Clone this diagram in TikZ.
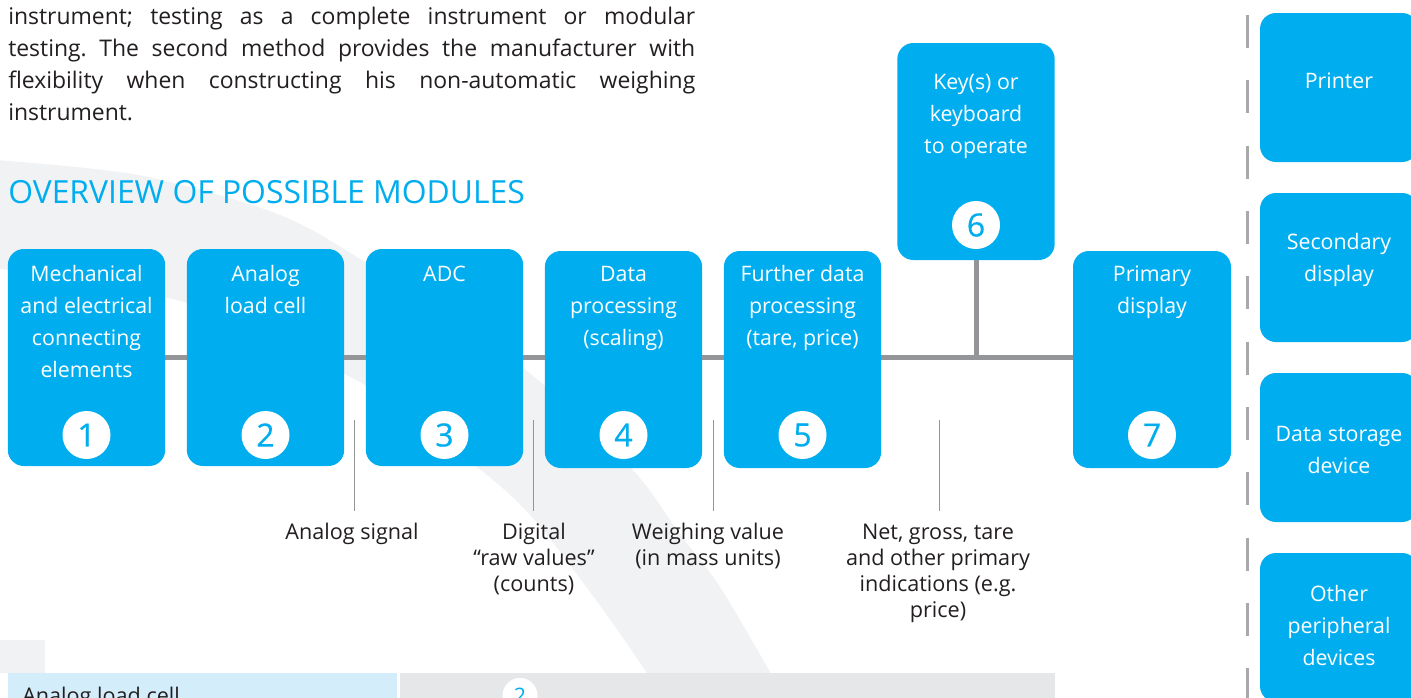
\documentclass[tikz,border=0pt]{standalone}
\usepackage{fontspec}
\setmainfont{Open Sans}
\definecolor{cblue}{HTML}{00AEEF}
\definecolor{ink}{HTML}{231F20}
\definecolor{swoosh}{HTML}{F1F2F4}
\definecolor{busgray}{HTML}{939598}
\definecolor{dashgray}{HTML}{A7A9AC}
\definecolor{rowblue}{HTML}{D4EDFA}
\definecolor{rowgray}{HTML}{E6E7E8}
\tikzset{
  x=0.75pt,y=-0.75pt,
  modbox/.style={fill=cblue,draw=none,rounded corners=12pt,minimum width=118pt,minimum height=162.75pt,inner sep=0pt},
  sidebox/.style={fill=cblue,draw=none,rounded corners=12pt,minimum width=118.5pt,minimum height=111.75pt,inner sep=0pt},
  boxtext/.style={text=white,font=\fontsize{16}{24}\selectfont,align=center,anchor=base,inner sep=0pt},
  numdisc/.style={circle,fill=white,draw=none,minimum size=36pt,inner sep=0pt,text=cblue,font=\fontsize{24}{24}\selectfont\addfontfeature{FakeBold=0.5}},
  bus/.style={draw=busgray,line width=3.75pt},
  thinlead/.style={draw=busgray,line width=0.75pt},
  sidedash/.style={draw=dashgray,line width=2.25pt,dash pattern=on 24.75pt off 24.25pt},
  caption/.style={text=ink,font=\fontsize{16.2}{19.5}\selectfont,align=center,anchor=base,inner sep=0pt},
}
\begin{document}
\begin{tikzpicture}
\useasboundingbox (0,0) rectangle (1411,697);
\clip (0,0) rectangle (1411,697);
% background
\fill[white] (0,0) rectangle (1411,697);
\fill[swoosh] plot[smooth] coordinates {(-5,160) (138,175) (275,213) (365,262) (523,368) (631,468) (679,533) (720,587) (770,672) (785,700)}
  -- plot[smooth] coordinates {(662,700) (647,673) (596,600) (532,517) (477,467) (365,385) (187,303) (-5,268)} -- cycle;
\fill[swoosh] (0,640) rectangle (45,673);
% table row
\fill[rowblue] (8,673) rectangle (397,700);
\fill[rowgray] (400,673) rectangle (1055,700);
\node[text=ink,font=\fontsize{16.2}{19.5}\selectfont,anchor=base west,inner sep=0pt] (rowlabel) at (22,703) {Analog load cell};
\node[numdisc,minimum size=26.25pt,font=\fontsize{16}{16}\selectfont] (rowdisc) at (520,695.5) {2};
% paragraph
\node[text=ink,font=\fontsize{17.2}{24}\selectfont\frenchspacing,anchor=base west,inner sep=0pt,align=left] (para) at (8,120) {%
\makebox[515.25pt][s]{instrument; testing as a complete instrument or modular}\\
\makebox[515.25pt][s]{testing. The second method provides the manufacturer with}\\
\makebox[515.25pt][s]{flexibility when constructing his non-automatic weighing}\\
instrument.};
\node[text=cblue,font=\fontsize{23.9}{24}\selectfont,anchor=base west,inner sep=0pt] (title) at (8,203) {OVERVIEW OF POSSIBLE MODULES};
% modules
\node[modbox] (m1) at (86.5,357.5) {};
\node[modbox] (m2) at (265.5,357.5) {};
\node[modbox] (m3) at (444.5,357.5) {};
\node[modbox] (m4) at (623.5,359.5) {};
\node[modbox] (m5) at (802.5,359.5) {};
\node[modbox] (m6) at (976,151.5) {};
\node[modbox,minimum width=118.5pt] (m7) at (1152,359.5) {};
% bus
\coordinate (busy) at (0,357);
\foreach \a/\b in {m1/m2,m2/m3,m3/m4,m4/m5,m5/m7}
  \draw[bus] (\a.east |- busy) -- (\b.west |- busy);
\draw[bus] (m6.south) -- (m6.south |- busy);
% module text
\node[boxtext] (t1) at (86.5,377) {Mechanical\\and electrical\\connecting\\elements};
\node[boxtext] (t2) at (265.5,313) {Analog\\load cell};
\node[boxtext] (t3) at (444.5,281) {ADC};
\node[boxtext] (t4) at (623.5,345) {Data\\processing\\(scaling)};
\node[boxtext] (t5) at (802.5,345) {Further data\\processing\\(tare, price)};
\node[boxtext] (t6) at (976,153) {Key(s) or\\keyboard\\to operate};
\node[boxtext] (t7) at (1152,313) {Primary\\display};
% discs
\node[numdisc] (n1) at (86.5,435) {1};
\node[numdisc] (n2) at (265.5,435) {2};
\node[numdisc] (n3) at (444.5,435) {3};
\node[numdisc] (n4) at (623.5,435) {4};
\node[numdisc] (n5) at (802.5,435) {5};
\node[numdisc] (n6) at (976,225) {6};
\node[numdisc] (n7) at (1152,435) {7};
% captions and leads
\node[caption] (c1) at (352,539) {Analog signal};
\node[caption] (c2) at (534,591) {Digital\\“raw values”\\(counts)};
\node[caption] (c3) at (708,565) {Weighing value\\(in mass units)};
\node[caption] (c4) at (938,617) {Net, gross, tare\\and other primary\\indications (e.g.\\price)};
\coordinate (l1a) at (354,420); \coordinate (l1b) at (354,511);
\coordinate (l2a) at (533.5,420); \coordinate (l2b) at (533.5,511);
\coordinate (l3a) at (713,420); \coordinate (l3b) at (713,511);
\coordinate (l4a) at (939,420); \coordinate (l4b) at (939,511);
\draw[thinlead] (l1a) -- (l1b);
\draw[thinlead] (l2a) -- (l2b);
\draw[thinlead] (l3a) -- (l3b);
\draw[thinlead] (l4a) -- (l4b);
% side column
\coordinate (dashtop) at (1247,15); \coordinate (dashend) at (1247,700);
\draw[sidedash] (dashtop) -- (dashend);
\node[sidebox] (s1) at (1339,87.5) {};
\node[sidebox] (s2) at (1339,267.5) {};
\node[sidebox] (s3) at (1339,447.5) {};
\node[sidebox] (s4) at (1339,627.5) {};
\node[boxtext] (st1) at (1339,88) {Printer};
\node[boxtext] (st2) at (1339,281) {Secondary\\display};
\node[boxtext] (st3) at (1339,473) {Data storage\\device};
\node[boxtext] (st4) at (1339,665) {Other\\peripheral\\devices};
\end{tikzpicture}
\end{document}
